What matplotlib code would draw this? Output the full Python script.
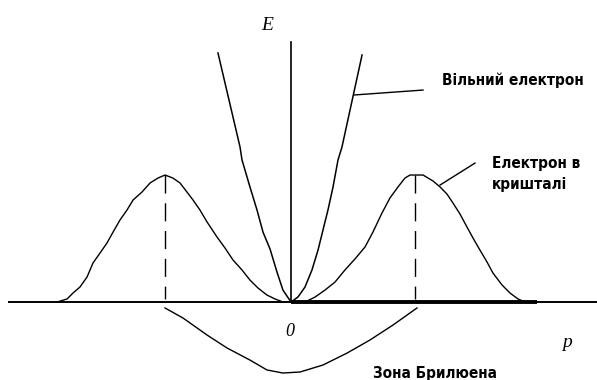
import matplotlib
matplotlib.use("Agg")
import matplotlib.pyplot as plt

# Energy E versus momentum p; p in units of the Brillouin-zone edge,
# E in units of the crystal band maximum.

# Electron in a crystal (band curve)
band_p = [-1.887, -1.806, -1.758, -1.702, -1.645, -1.597, -1.540, -1.484, -1.435,
          -1.379, -1.323, -1.274, -1.202, -1.137, -1.073, -1.016, -0.952, -0.895,
          -0.839, -0.790, -0.734, -0.677, -0.597, -0.532, -0.468, -0.395, -0.331,
          -0.266, -0.194, -0.129, -0.065, 0.0,
          0.113, 0.194, 0.274, 0.355, 0.435, 0.516, 0.597, 0.661, 0.734, 0.798,
          0.863, 0.919, 0.960, 1.024, 1.065, 1.145, 1.202, 1.258, 1.306, 1.363,
          1.419, 1.468, 1.524, 1.581, 1.629, 1.702, 1.766, 1.831, 1.887, 1.952]
band_E = [0.0, 0.024, 0.071, 0.118, 0.197, 0.307, 0.386, 0.465, 0.551,
          0.646, 0.724, 0.803, 0.866, 0.937, 0.976, 1.0, 0.976, 0.937,
          0.866, 0.803, 0.724, 0.630, 0.512, 0.425, 0.331, 0.252, 0.173,
          0.110, 0.055, 0.024, 0.0, 0.0,
          0.0, 0.039, 0.094, 0.157, 0.252, 0.339, 0.433, 0.551, 0.701, 0.819,
          0.906, 0.976, 1.0, 1.0, 1.0, 0.953, 0.906, 0.850, 0.780, 0.693,
          0.591, 0.504, 0.409, 0.315, 0.228, 0.134, 0.071, 0.024, 0.0, 0.0]

# Free electron
free_p = [-0.589, -0.411, -0.395, -0.331, -0.274, -0.226, -0.169, -0.113, -0.065, 0.0,
          0.056, 0.113, 0.169, 0.218, 0.258, 0.298, 0.339, 0.379, 0.411, 0.573]
free_E = [1.961, 1.220, 1.118, 0.906, 0.724, 0.551, 0.417, 0.236, 0.094, 0.0,
          0.039, 0.118, 0.252, 0.409, 0.567, 0.724, 0.906, 1.118, 1.220, 1.945]

# Brillouin-zone bracket under the axis
zone_p = [-1.016, -0.871, -0.677, -0.516, -0.331, -0.194, -0.065, 0.073, 0.258,
          0.452, 0.637, 0.823, 1.016]
zone_E = [-0.047, -0.126, -0.260, -0.362, -0.457, -0.535, -0.559, -0.551, -0.496,
          -0.402, -0.299, -0.181, -0.047]

zone_edges = [-1.016, 1.0]
band_max = 1.0

label_free = "Вільний електрон"
label_crystal = "Електрон в\nкришталі"
label_zone = "Зона Брилюена"

fig = plt.figure(figsize=(5.97, 3.80), dpi=100)
ax = fig.add_axes([0, 0, 1, 1])
ax.set_xlim(-2.347, 2.468)
ax.set_ylim(-0.614, 2.378)
ax.axis("off")

k = "black"
# axes
ax.plot([-2.282, 2.468], [0, 0], color=k, lw=1.4, solid_capstyle="butt")
ax.plot([0, 1.984], [0, 0], color=k, lw=2.8, solid_capstyle="butt")
ax.plot([0, 0], [0, 2.047], color=k, lw=1.2)

# curves
ax.plot(band_p, band_E, color=k, lw=1.0)
ax.plot(free_p, free_E, color=k, lw=1.1)
ax.plot(zone_p, zone_E, color=k, lw=1.0)

# zone-edge markers
for pe in zone_edges:
    ax.plot([pe, pe], [band_max, 0.02], color=k, lw=1.0, linestyle=(0, (13, 7)))

# leader lines
ax.plot([0.508, 1.065], [1.630, 1.669], color=k, lw=1.0)
ax.plot([1.202, 1.484], [0.921, 1.094], color=k, lw=1.0)

sans = ["DejaVu Sans", "Liberation Sans"]
serif = ["Liberation Serif", "DejaVu Serif"]
txt = dict(family=sans, weight="bold", stretch="condensed", fontsize=11)
ax.text(1.218, 1.748, label_free, ha="left", va="center", **txt)
ax.text(1.621, 1.008, label_crystal, ha="left", va="center", linespacing=1.55, **txt)
ax.text(0.661, -0.559, label_zone, ha="left", va="center", **txt)

ax.text(-0.194, 2.181, "E", family=serif, style="italic", fontsize=14,
        ha="center", va="center")
ax.text(-0.008, -0.236, "0", family=serif, style="italic", fontsize=13,
        ha="center", va="center")
ax.text(2.226, -0.315, "p", family=serif, style="italic", fontsize=14,
        ha="center", va="center")

fig.savefig("out.png", dpi=100)
